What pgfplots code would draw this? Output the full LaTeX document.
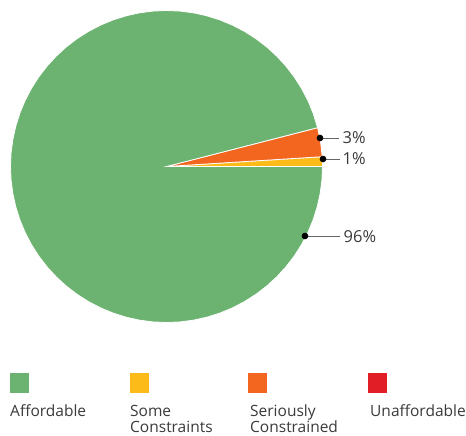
\documentclass[border=0pt]{standalone}
\usepackage{pgfplots}
\pgfplotsset{compat=1.18}
\usepackage{fontspec}
\setmainfont{Open Sans}
\definecolor{cGreen}{HTML}{6CB270}
\definecolor{cYellow}{HTML}{FDBB1A}
\definecolor{cOrange}{HTML}{F3661F}
\definecolor{cRed}{HTML}{E11D25}
\definecolor{cText}{HTML}{3A3A3A}
\definecolor{cLine}{HTML}{666666}
\begin{document}
\begin{tikzpicture}
\begin{axis}[
  scale only axis, width=466bp, height=436bp,
  xmin=-166.5, xmax=299.5, ymin=-269.5, ymax=166.5,
  hide axis, clip=false,
]
\path (rel axis cs:0,0) rectangle (rel axis cs:1,1);
% pie: Affordable 96, Some Constraints 1, Seriously Constrained 3, Unaffordable 0
\addplot[data cs=polar, fill=cYellow, draw=white, line width=0.8pt]
  coordinates {(0,0) (0,156) (3.6,156)} --cycle;
\addplot[data cs=polar, fill=cOrange, draw=white, line width=0.8pt]
  coordinates {(0,0) (3.6,156) (9,156) (14.4,156)} --cycle;
\addplot[data cs=polar, fill=cGreen, draw=white, line width=0.8pt]
  coordinates {(0,0) (14.4,156) (20,156) (25,156) (30,156) (35,156) (40,156) (45,156)
  (50,156) (55,156) (60,156) (65,156) (70,156) (75,156) (80,156) (85,156) (90,156)
  (95,156) (100,156) (105,156) (110,156) (115,156) (120,156) (125,156) (130,156)
  (135,156) (140,156) (145,156) (150,156) (155,156) (160,156) (165,156) (170,156)
  (175,156) (180,156) (185,156) (190,156) (195,156) (200,156) (205,156) (210,156)
  (215,156) (220,156) (225,156) (230,156) (235,156) (240,156) (245,156) (250,156)
  (255,156) (260,156) (265,156) (270,156) (275,156) (280,156) (285,156) (290,156)
  (295,156) (300,156) (305,156) (310,156) (315,156) (320,156) (325,156) (330,156)
  (335,156) (340,156) (345,156) (350,156) (355,156) (360,156)} --cycle;
% leader lines
\addplot[cLine, line width=0.8pt, mark=*, mark size=2.9pt, mark options={black, fill=black}, mark indices={1}]
  coordinates {(153.5,28.5) (172.5,28.5)};
\addplot[cLine, line width=0.8pt, mark=*, mark size=2.9pt, mark options={black, fill=black}, mark indices={1}]
  coordinates {(156.5,7.5) (173.5,7.5)};
\addplot[cLine, line width=0.8pt, mark=*, mark size=2.9pt, mark options={black, fill=black}, mark indices={1}]
  coordinates {(138.5,-69.5) (173.5,-69.5)};
\begin{scope}[every node/.style={text=cText, font=\fontsize{16.5bp}{19bp}\selectfont, inner sep=0pt}]
\node[anchor=west] at (axis cs:176,28.5) {3\%};
\node[anchor=west] at (axis cs:176,7.5) {1\%};
\node[anchor=west] at (axis cs:177,-70.5) {96\%};
\end{scope}
% legend
\addplot[only marks, mark=square*, mark size=9.15bp, color=cGreen] coordinates {(-147.3,-216.2)};
\addplot[only marks, mark=square*, mark size=9.15bp, color=cYellow] coordinates {(-27.3,-216.2)};
\addplot[only marks, mark=square*, mark size=9.15bp, color=cOrange] coordinates {(91,-216.2)};
\addplot[only marks, mark=square*, mark size=9.15bp, color=cRed] coordinates {(211,-216.2)};
\begin{scope}[every node/.style={text=cText, font=\fontsize{15.5bp}{17bp}\selectfont, inner sep=0pt, anchor=base west}]
\node at (axis cs:-156.5,-250.2) {Affordable};
\node at (axis cs:-36.5,-250.2) {Some};
\node at (axis cs:-36.5,-266.2) {Constraints};
\node at (axis cs:83.5,-250.2) {Seriously};
\node at (axis cs:83.5,-266.2) {Constrained};
\node at (axis cs:203.5,-250.2) {Unaffordable};
\end{scope}
\end{axis}
\end{tikzpicture}
\end{document}
